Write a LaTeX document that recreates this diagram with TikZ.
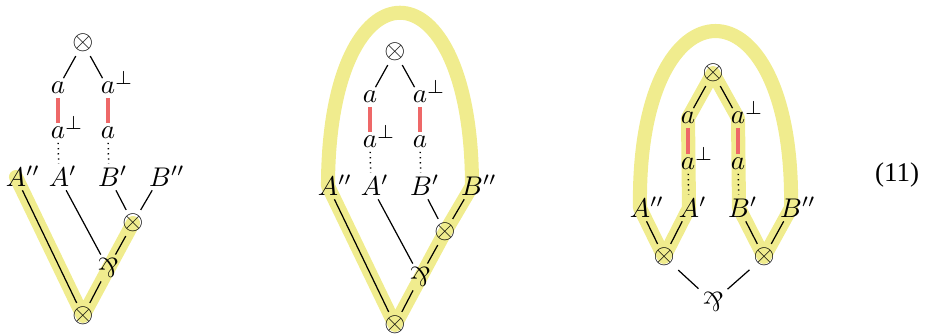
\documentclass[tikz,border=0pt]{standalone}
\usepackage{amsmath}
\usepackage{amssymb}
\usepackage[no-math]{fontspec}
\setmainfont{Liberation Serif}
\usepackage{tikz}
\usetikzlibrary{backgrounds}

\definecolor{hilite}{RGB}{240,236,142}
\definecolor{axred}{RGB}{238,104,104}
\newcommand{\parsym}{\rotatebox[origin=c]{180}{$\&$}}
\newcommand{\dual}[1]{#1\smash{\rlap{$^{\perp}$}}}
\newcommand{\prm}[2]{#1\smash{\rlap{$#2$}}}

\tikzset{
    lab/.style={inner sep=1.3pt},
    wire/.style={line width=0.45pt},
    axiom/.style={draw=axred, line width=1.25pt},
    dotwire/.style={dash pattern=on 0.5pt off 1.4pt, line width=0.55pt},
    trip/.style={draw=hilite, line width=5.2pt, line cap=round, line join=round}
}

\begin{document}
\begin{tikzpicture}[x=0.37pt, y=-0.37pt, every node/.style={lab}]
    \useasboundingbox (0,0) rectangle (928,333);

    % first net
    \node (top1) at (83,43) {$\otimes$};
    \node (au1) at (58,88) {$a$};
    \node (du1) at (108,88) {$\dual{a}$};
    \node (dl1) at (58,133) {$\dual{a}$};
    \node (al1) at (108,133) {$a$};
    \node (App1) at (16,177) {$\prm{A}{''}$};
    \node (Ap1) at (59,177) {$\prm{A}{'}$};
    \node (Bp1) at (109,177) {$\prm{B}{'}$};
    \node (Bpp1) at (160,177) {$\prm{B}{''}$};
    \node (tr1) at (133,223) {$\otimes$};
    \node (par1) at (108,268) {\parsym};
    \node (bot1) at (83,316) {$\otimes$};

    % second net
    \node (top2) at (395,52) {$\otimes$};
    \node (au2) at (370,97) {$a$};
    \node (du2) at (420,97) {$\dual{a}$};
    \node (dl2) at (370,142) {$\dual{a}$};
    \node (al2) at (420,142) {$a$};
    \node (App2) at (328,186) {$\prm{A}{''}$};
    \node (Ap2) at (371,186) {$\prm{A}{'}$};
    \node (Bp2) at (421,186) {$\prm{B}{'}$};
    \node (Bpp2) at (472,186) {$\prm{B}{''}$};
    \node (tr2) at (445,232) {$\otimes$};
    \node (par2) at (420,277) {\parsym};
    \node (bot2) at (395,325) {$\otimes$};

    % third net
    \node (top3) at (713,73) {$\otimes$};
    \node (au3) at (688,118) {$a$};
    \node (du3) at (738,118) {$\dual{a}$};
    \node (dl3) at (688,164) {$\dual{a}$};
    \node (al3) at (738,164) {$a$};
    \node (App3) at (640,208) {$\prm{A}{''}$};
    \node (Ap3) at (689,208) {$\prm{A}{'}$};
    \node (Bp3) at (739,208) {$\prm{B}{'}$};
    \node (Bpp3) at (791,208) {$\prm{B}{''}$};
    \node (tl3) at (664,257) {$\otimes$};
    \node (tr3) at (764,257) {$\otimes$};
    \node (par3) at (713,302) {\parsym};

    \node (eq) at (897,175) {(11)};

    % links shared by all three
    \foreach \n in {1,2,3} {
        \draw[wire] (top\n) -- (au\n) (top\n) -- (du\n);
        \draw[axiom] (au\n) -- (dl\n) (du\n) -- (al\n);
        \draw[dotwire] (dl\n) -- (Ap\n) (al\n) -- (Bp\n);
    }
    \foreach \n in {1,2} {
        \draw[wire] (App\n) -- (bot\n) (Ap\n) -- (par\n) (Bp\n) -- (tr\n)
            (Bpp\n) -- (tr\n) (tr\n) -- (par\n) (par\n) -- (bot\n);
    }
    \draw[wire] (App3) -- (tl3) (Ap3) -- (tl3) (Bp3) -- (tr3) (Bpp3) -- (tr3)
        (tl3) -- (par3) (tr3) -- (par3);

    % switching paths
    \begin{scope}[on background layer]
        \draw[trip] (App1.center) -- (bot1.center) -- (tr1.center);
        \draw[trip] (App2.center) -- (bot2.center) -- (tr2.center) -- (Bpp2.center)
            .. controls (472,-45) and (328,-45) .. (App2.center) -- cycle;
        \draw[trip] (App3.center) -- (tl3.center) -- (Ap3.center) -- (au3.center)
            -- (top3.center) -- (du3.center) -- (Bp3.center) -- (tr3.center)
            -- (Bpp3.center) .. controls (795,-28) and (636,-28) .. (App3.center) -- cycle;
    \end{scope}
\end{tikzpicture}
\end{document}
